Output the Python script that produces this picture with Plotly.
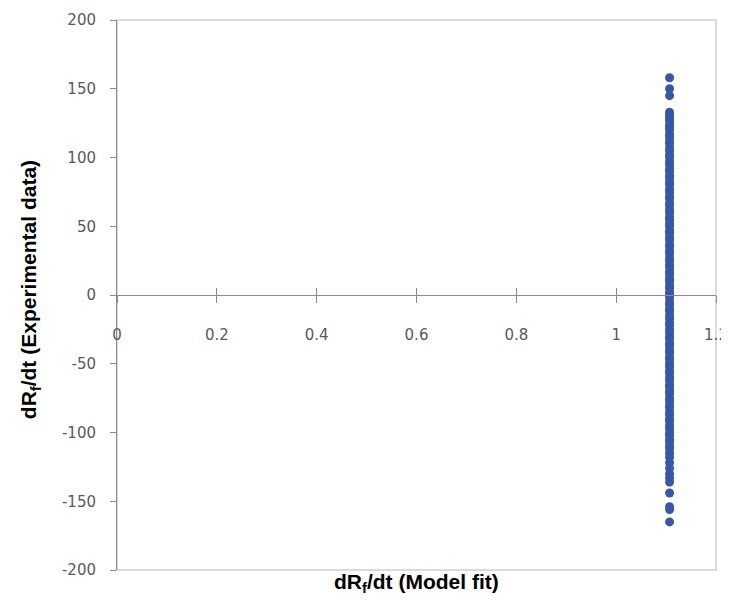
import plotly.graph_objects as go

# Data: all points share the same model-fit value
x_model = 1.107
y_exp = [158, 150, 145, 133, 131, 129, 127, 124, 122, 120, 117, 115, 112, 110,
         107, 105, 102, 100, 97, 95, 92, 90, 87, 85, 82, 80, 77, 75, 72, 70,
         67, 65, 62, 60, 57, 55, 52, 50, 47, 45, 42, 40, 37, 35, 32, 30, 27,
         25, 22, 20, 17, 15, 12, 10, 7, 5, 2, 0, -2, -5, -7, -10, -12, -15,
         -17, -20, -22, -25, -27, -30, -32, -35, -37, -40, -42, -45, -47, -50,
         -52, -55, -57, -60, -62, -65, -67, -70, -72, -75, -77, -80, -82, -85,
         -87, -90, -92, -95, -97, -100, -102, -105, -107, -110, -112, -115,
         -118, -122, -126, -130, -133, -136, -144, -154, -156, -165]
x_vals = [x_model] * len(y_exp)

x_ticks = [0, 0.2, 0.4, 0.6, 0.8, 1, 1.2]
x_ticktext = ["0", "0.2", "0.4", "0.6", "0.8", "1", "1.2"]
y_ticks = [-200, -150, -100, -50, 0, 50, 100, 150, 200]
y_ticktext = ["-200", "-150", "-100", "-50", "0", "50", "100", "150", "200"]

x_title = "<b>dR<sub>f</sub>/dt (Model fit)</b>"
y_title = "<b>dR<sub>f</sub>/dt (Experimental data)</b>"

axis_col = "#8c8c8c"
label_col = "#595959"
tick_font = dict(family="DejaVu Sans", size=15, color=label_col)
title_font = dict(family="Liberation Sans", size=21, color="black")

fig = go.Figure()
fig.add_trace(go.Scatter(
    x=x_vals, y=y_exp, mode="markers",
    marker=dict(size=9, color="#3A57A6", line=dict(width=0)),
    showlegend=False, xaxis="x", yaxis="y", cliponaxis=False))
# invisible trace to activate the second x axis (inside ticks)
fig.add_trace(go.Scatter(x=[None], y=[None], xaxis="x2", yaxis="y",
                         showlegend=False, hoverinfo="skip"))

fig.update_layout(
    width=721, height=593,
    paper_bgcolor="white", plot_bgcolor="white",
    margin=dict(l=109, r=13, t=12, b=31),
    xaxis=dict(range=[0, 1.2], tickvals=x_ticks, ticktext=x_ticktext,
               showgrid=False, zeroline=False, showline=True,
               linecolor=axis_col, linewidth=1, automargin=False,
               ticks="outside", ticklen=7, tickcolor=axis_col,
               anchor="free", position=0.5, ticklabeloverflow="allow",
               tickfont=tick_font, ticklabelstandoff=19),
    xaxis2=dict(range=[0, 1.2], tickvals=x_ticks, overlaying="x",
                showgrid=False, zeroline=False, showline=False, automargin=False,
                ticks="inside", ticklen=7, tickcolor=axis_col,
                showticklabels=False, anchor="free", position=0.5),
    yaxis=dict(range=[-200, 200], tickvals=y_ticks, ticktext=y_ticktext,
               showgrid=False, zeroline=False, showline=True,
               linecolor=axis_col, linewidth=1, automargin=False,
               ticks="outside", ticklen=6, tickcolor=axis_col,
               tickfont=tick_font, ticklabelstandoff=11),
    shapes=[dict(type="rect", xref="paper", yref="paper", x0=0, x1=1, y0=0, y1=1,
                 line=dict(color="#d0d0d0", width=1.5), layer="below")],
    annotations=[
        dict(text=x_title, xref="paper", yref="paper", x=0.5, y=-0.0236,
             xanchor="center", yanchor="middle", showarrow=False, font=title_font),
        dict(text=y_title, xref="paper", yref="paper", x=-0.145, y=0.509,
             xanchor="center", yanchor="middle", textangle=-90,
             showarrow=False, font=title_font),
    ],
)

fig.write_html("out.html")
